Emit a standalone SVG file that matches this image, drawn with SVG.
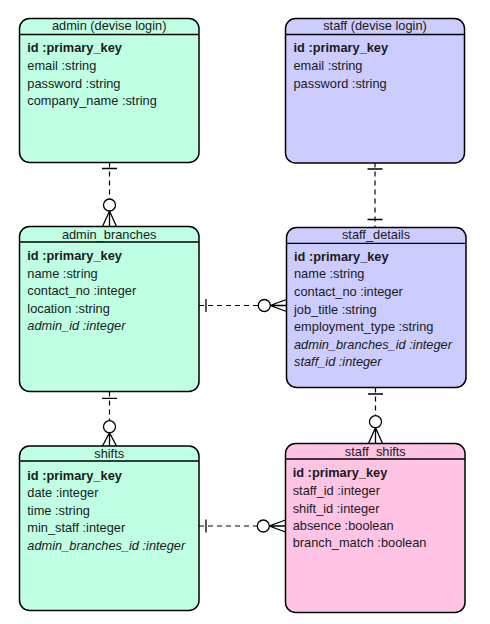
<svg xmlns="http://www.w3.org/2000/svg" width="490" height="624" viewBox="0 0 490 624">
<style>
.box{stroke:#000;stroke-width:1.5}
.g{fill:#bfffe3}
.p{fill:#ccccff}
.k{fill:#ffc4e4}
.hl{stroke:#000;stroke-width:1.3}
text{font-family:"Liberation Sans",Arial,sans-serif;font-size:12.8px;fill:#1a1a1a}
.h{text-anchor:middle}
.b{font-weight:bold}
.i{font-style:italic}
.d{fill:none;stroke:#000;stroke-width:1.2;stroke-dasharray:5,4}
.s{fill:none;stroke:#000;stroke-width:1.3}
.c{fill:#fff;stroke:#000;stroke-width:1.3}
</style>
<rect width="490" height="624" fill="#fff"/>
<g id="connectors">
  <!-- admin -> admin_branches -->
  <path class="d" d="M109.5 162.5V199"/>
  <path class="s" d="M102 168.5H117M102.5 226.5L109.5 211L116.5 226.5M109.5 211V226.5"/>
  <circle class="c" cx="109.5" cy="205" r="6"/>
  <!-- staff -> staff_details -->
  <path class="d" d="M375 162.5V227.5"/>
  <path class="s" d="M367.5 169H382.5M367.5 219.5H382.5"/>
  <!-- admin_branches -> staff_details -->
  <path class="d" d="M199 305.5H258.3"/>
  <path class="s" d="M206 299V312M286.5 299.5L270.3 305.5L286.5 311.5M270.3 305.5H286.5"/>
  <circle class="c" cx="264.3" cy="305.5" r="6"/>
  <!-- staff_details -> staff_shifts -->
  <path class="d" d="M375.5 387.5V415.7"/>
  <path class="s" d="M368 394H383M368.5 443.5L375.5 427.7L382.5 443.5M375.5 427.7V443.5"/>
  <circle class="c" cx="375.5" cy="421.7" r="6"/>
  <!-- admin_branches -> shifts -->
  <path class="d" d="M109.5 391.5V420.7"/>
  <path class="s" d="M102 398.3H117M102.5 446L109.5 432.7L116.5 446M109.5 432.7V446"/>
  <circle class="c" cx="109.5" cy="426.7" r="6"/>
  <!-- shifts -> staff_shifts -->
  <path class="d" d="M199 526H257.3"/>
  <path class="s" d="M206 519.5V532.5M285.5 520L269.3 526L285.5 532M269.3 526H285.5"/>
  <circle class="c" cx="263.3" cy="526" r="6"/>
</g>
<g id="admin">
  <rect class="box g" x="19.5" y="18.5" width="179.5" height="144" rx="10"/>
  <line class="hl" x1="19.5" y1="34.5" x2="199" y2="34.5"/>
  <text class="h" x="109.2" y="30">admin (devise login)</text>
  <text class="b" x="27.3" y="52.3">id :primary_key</text>
  <text x="27.3" y="70">email :string</text>
  <text x="27.3" y="87.5">password :string</text>
  <text x="27.3" y="105">company_name :string</text>
</g>
<g id="staff">
  <rect class="box p" x="285.5" y="18.5" width="179" height="144.5" rx="10"/>
  <line class="hl" x1="285.5" y1="34.5" x2="464.5" y2="34.5"/>
  <text class="h" x="375" y="30">staff (devise login)</text>
  <text class="b" x="293.5" y="52.3">id :primary_key</text>
  <text x="293.5" y="70">email :string</text>
  <text x="293.5" y="87.5">password :string</text>
</g>
<g id="admin_branches">
  <rect class="box g" x="19.5" y="226.5" width="179.5" height="165" rx="10"/>
  <line class="hl" x1="19.5" y1="242" x2="199" y2="242"/>
  <text class="h" x="109.2" y="239">admin_branches</text>
  <text class="b" x="27.3" y="260">id :primary_key</text>
  <text x="27.3" y="277.7">name :string</text>
  <text x="27.3" y="295.2">contact_no :integer</text>
  <text x="27.3" y="312.7">location :string</text>
  <text class="i" x="27.3" y="330.2">admin_id :integer</text>
</g>
<g id="staff_details">
  <rect class="box p" x="286.5" y="227.5" width="179.5" height="160" rx="10"/>
  <line class="hl" x1="286.5" y1="243.3" x2="466" y2="243.3"/>
  <text class="h" x="376" y="239.3">staff_details</text>
  <text class="b" x="294" y="260.7">id :primary_key</text>
  <text x="294" y="278.3">name :string</text>
  <text x="294" y="296">contact_no :integer</text>
  <text x="294" y="313.5">job_title :string</text>
  <text x="294" y="331">employment_type :string</text>
  <text class="i" x="294" y="348.5">admin_branches_id :integer</text>
  <text class="i" x="294" y="366">staff_id :integer</text>
</g>
<g id="shifts">
  <rect class="box g" x="19.5" y="446" width="179.5" height="164.5" rx="10"/>
  <line class="hl" x1="19.5" y1="461" x2="199" y2="461"/>
  <text class="h" x="109.2" y="458.3">shifts</text>
  <text class="b" x="27.3" y="480">id :primary_key</text>
  <text x="27.3" y="497.4">date :integer</text>
  <text x="27.3" y="514.8">time :string</text>
  <text x="27.3" y="532.3">min_staff :integer</text>
  <text class="i" x="27.3" y="549.7">admin_branches_id :integer</text>
</g>
<g id="staff_shifts">
  <rect class="box k" x="285.5" y="443.5" width="179.5" height="169" rx="10"/>
  <line class="hl" x1="285.5" y1="459" x2="465" y2="459"/>
  <text class="h" x="375.3" y="455.7">staff_shifts</text>
  <text class="b" x="292.7" y="477.3">id :primary_key</text>
  <text x="292.7" y="495">staff_id :integer</text>
  <text x="292.7" y="512.6">shift_id :integer</text>
  <text x="292.7" y="530">absence :boolean</text>
  <text x="292.7" y="547.4">branch_match :boolean</text>
</g>
</svg>
